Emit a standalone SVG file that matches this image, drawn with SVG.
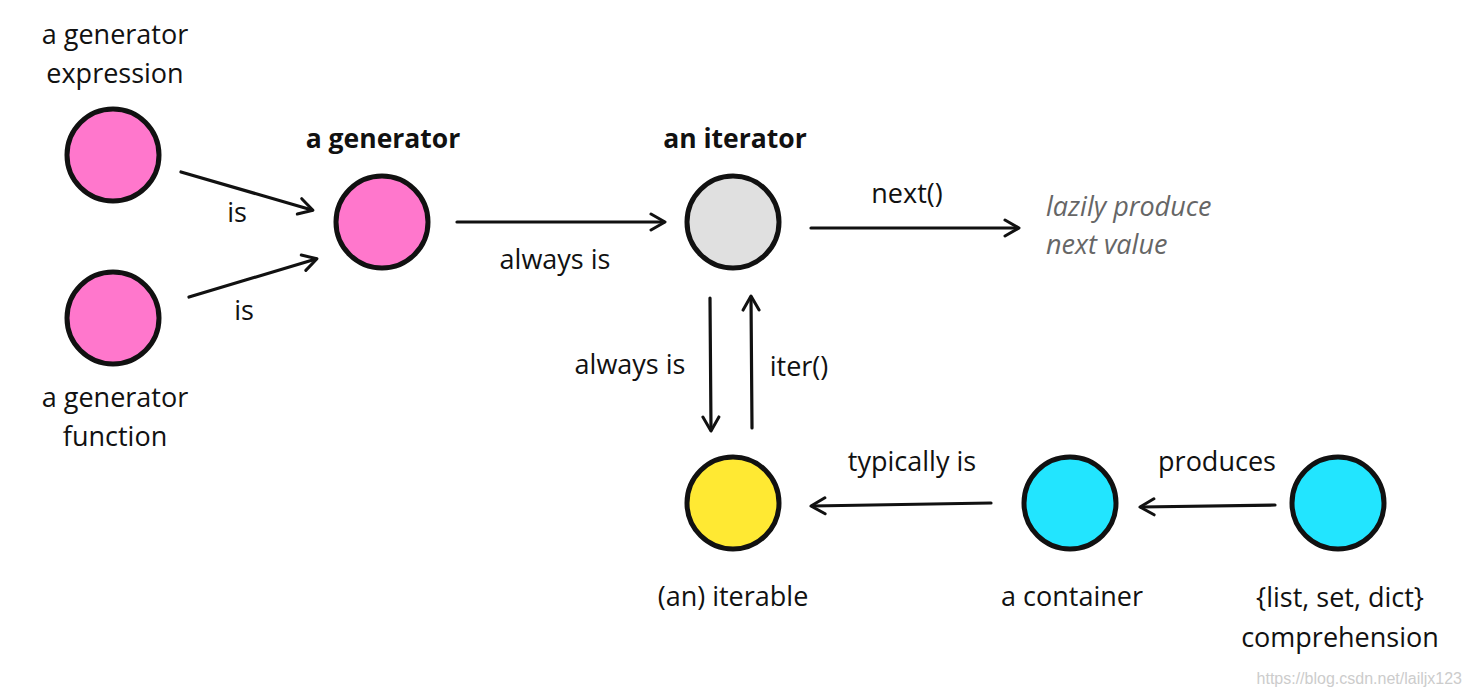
<svg xmlns="http://www.w3.org/2000/svg" width="1472" height="697" viewBox="0 0 1472 697">
<defs>
<style>
.t{font-family:"Open Sans","Noto Sans",sans-serif;font-size:27px;fill:#111;text-anchor:middle}
.b{font-weight:bold;font-size:26.5px}
.g{font-style:italic;fill:#666;text-anchor:start}
.w{font-family:"Liberation Sans",sans-serif;font-size:16px;fill:#ccc;text-anchor:end}
.n{stroke:#111;stroke-width:5}
.c{fill:none;stroke:#111;stroke-width:3.2;stroke-linecap:round;stroke-linejoin:round}
</style>
<marker id="ah" viewBox="0 0 20 20" refX="16" refY="10" markerWidth="20" markerHeight="20" markerUnits="userSpaceOnUse" orient="auto">
<path d="M3,2 L17,10 L3,18" fill="none" stroke="#111" stroke-width="3" stroke-linecap="round" stroke-linejoin="round"/>
</marker>
</defs>
<rect width="1472" height="697" fill="#fff"/>
<g id="connectors">
<line class="c" x1="181" y1="172" x2="312" y2="210" marker-end="url(#ah)"/>
<line class="c" x1="189" y1="297" x2="316" y2="259" marker-end="url(#ah)"/>
<line class="c" x1="457" y1="222" x2="664" y2="222" marker-end="url(#ah)"/>
<line class="c" x1="811" y1="228" x2="1018" y2="228" marker-end="url(#ah)"/>
<line class="c" x1="710" y1="298" x2="711" y2="430" marker-end="url(#ah)"/>
<line class="c" x1="752" y1="428" x2="751" y2="297" marker-end="url(#ah)"/>
<line class="c" x1="991" y1="503" x2="812" y2="506" marker-end="url(#ah)"/>
<line class="c" x1="1275" y1="505" x2="1141" y2="507" marker-end="url(#ah)"/>
<text class="t" x="237" y="222">is</text>
<text class="t" x="244" y="320">is</text>
<text class="t" x="555" y="269">always is</text>
<text class="t" x="907" y="203">next()</text>
<text class="t" x="630" y="374">always is</text>
<text class="t" x="799" y="376">iter()</text>
<text class="t" x="912" y="471">typically is</text>
<text class="t" x="1217" y="471">produces</text>
</g>
<g id="gen-expression">
<circle class="n" cx="113" cy="155" r="46" fill="#ff77cc"/>
<text class="t" x="115" y="44">a generator</text>
<text class="t" x="115" y="83">expression</text>
</g>
<g id="gen-function">
<circle class="n" cx="113" cy="318" r="46" fill="#ff77cc"/>
<text class="t" x="115" y="407">a generator</text>
<text class="t" x="115" y="446">function</text>
</g>
<g id="generator">
<circle class="n" cx="382" cy="222" r="46" fill="#ff77cc"/>
<text class="t b" x="383" y="148">a generator</text>
</g>
<g id="iterator">
<circle class="n" cx="733" cy="222" r="46" fill="#e0e0e0"/>
<text class="t b" x="735" y="148">an iterator</text>
</g>
<g id="lazy">
<text class="t g" x="1046" y="216">lazily produce</text>
<text class="t g" x="1046" y="254">next value</text>
</g>
<g id="iterable">
<circle class="n" cx="733" cy="503" r="46" fill="#ffe933"/>
<text class="t" x="733" y="606">(an) iterable</text>
</g>
<g id="container">
<circle class="n" cx="1070" cy="503" r="46" fill="#22e5ff"/>
<text class="t" x="1072" y="606">a container</text>
</g>
<g id="comprehension">
<circle class="n" cx="1338" cy="503" r="46" fill="#22e5ff"/>
<text class="t" x="1340" y="607">{list, set, dict}</text>
<text class="t" x="1340" y="647">comprehension</text>
</g>
<text class="w" x="1462" y="684">https://blog.csdn.net/lailjx123</text>
</svg>
